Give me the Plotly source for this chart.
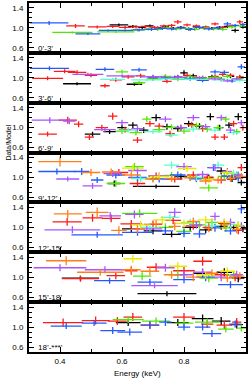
import plotly.graph_objects as go
from plotly.subplots import make_subplots

COLORS = {
    "black": "#000000", "red": "#ff1a1a", "green": "#4fe800", "blue": "#2458ff",
    "cyan": "#55ffcc", "purple": "#a855ff", "yellow": "#e8e800", "orange": "#ff7f1a",
}
PANEL_LABELS = ["0’-3’", "3’-6’", "6’-9’", "9’-12’", "12’-15’", "15’-18’", "18’-***’"]
X_TICKS = [0.4, 0.6, 0.8]
Y_TICKS = [0.6, 1.0, 1.4]

# ---- panel 1 (0'-3') ----
p1_black = dict(e=[0.59, 0.635, 0.665, 0.69, 0.715, 0.74, 0.765, 0.79, 0.815, 0.84, 0.865, 0.89, 0.915, 0.94, 0.965, 0.99],
                w=[0.03, 0.015, 0.013, 0.012, 0.012, 0.012, 0.012, 0.012, 0.012, 0.012, 0.012, 0.012, 0.012, 0.012, 0.012, 0.01],
                r=[1.06, 1.03, 1.01, 1.04, 1.00, 1.02, 0.99, 1.01, 0.98, 1.02, 1.00, 0.99, 1.01, 1.03, 0.95, 1.02],
                s=[0.03, 0.03, 0.03, 0.03, 0.03, 0.03, 0.03, 0.03, 0.03, 0.03, 0.03, 0.03, 0.03, 0.03, 0.04, 0.03])
p1_red = dict(e=[0.45, 0.52, 0.57, 0.61, 0.645, 0.675, 0.705, 0.735, 0.76, 0.78, 0.81, 0.84, 0.87, 0.90, 0.925, 0.955, 0.98],
              w=[0.03, 0.03, 0.02, 0.02, 0.015, 0.015, 0.013, 0.013, 0.012, 0.012, 0.012, 0.012, 0.012, 0.012, 0.012, 0.012, 0.01],
              r=[1.04, 1.02, 1.03, 1.01, 1.02, 1.03, 1.01, 1.04, 1.05, 1.12, 1.06, 1.04, 1.02, 1.08, 1.01, 1.04, 1.12],
              s=[0.04, 0.03, 0.03, 0.03, 0.03, 0.03, 0.03, 0.03, 0.03, 0.04, 0.03, 0.03, 0.03, 0.03, 0.03, 0.03, 0.04])
p1_green = dict(e=[0.44, 0.58, 0.65, 0.685, 0.715, 0.745, 0.775, 0.805, 0.835, 0.865, 0.895, 0.925, 0.955, 0.985],
                w=[0.065, 0.06, 0.02, 0.015, 0.015, 0.015, 0.015, 0.015, 0.015, 0.015, 0.015, 0.015, 0.015, 0.013],
                r=[0.91, 0.92, 0.96, 0.98, 0.97, 1.00, 0.98, 0.99, 0.97, 1.00, 0.98, 0.97, 1.02, 1.04],
                s=[0.02, 0.02, 0.03, 0.03, 0.03, 0.03, 0.03, 0.03, 0.03, 0.03, 0.03, 0.03, 0.03, 0.03])
p1_blue = dict(e=[0.365, 0.49, 0.555, 0.61, 0.655, 0.695, 0.73, 0.76, 0.79, 0.82, 0.85, 0.88, 0.91, 0.94, 0.965, 0.99],
               w=[0.062, 0.04, 0.03, 0.025, 0.02, 0.02, 0.015, 0.015, 0.015, 0.015, 0.015, 0.015, 0.015, 0.012, 0.012, 0.01],
               r=[1.10, 0.88, 0.95, 0.95, 0.96, 0.97, 0.99, 0.98, 1.00, 0.97, 1.01, 0.98, 1.00, 1.08, 1.05, 1.07],
               s=[0.04, 0.02, 0.02, 0.02, 0.03, 0.03, 0.03, 0.03, 0.03, 0.03, 0.03, 0.03, 0.03, 0.04, 0.03, 0.03])

# ---- panel 2 (3'-6') ----
p2_black = dict(e=[0.455, 0.64, 0.70, 0.74, 0.77, 0.80, 0.83, 0.86, 0.89, 0.92, 0.95, 0.98],
                w=[0.045, 0.025, 0.015, 0.015, 0.012, 0.012, 0.012, 0.012, 0.012, 0.012, 0.012, 0.012],
                r=[0.88, 0.87, 0.99, 1.02, 1.00, 1.10, 1.04, 1.00, 1.02, 0.97, 1.03, 1.00],
                s=[0.03, 0.03, 0.04, 0.04, 0.04, 0.05, 0.04, 0.04, 0.04, 0.04, 0.04, 0.04])
p2_red = dict(e=[0.36, 0.415, 0.455, 0.50, 0.545, 0.58, 0.62, 0.66, 0.70, 0.745, 0.78, 0.81, 0.84, 0.87, 0.90, 0.925, 0.95, 0.98],
              w=[0.05, 0.035, 0.03, 0.02, 0.015, 0.02, 0.02, 0.015, 0.015, 0.015, 0.013, 0.013, 0.013, 0.013, 0.012, 0.012, 0.012, 0.012],
              r=[0.99, 1.13, 1.11, 1.05, 0.84, 0.96, 1.02, 1.04, 1.00, 0.93, 1.02, 1.05, 1.01, 0.98, 1.03, 1.07, 1.05, 1.02],
              s=[0.04, 0.04, 0.04, 0.04, 0.04, 0.04, 0.04, 0.04, 0.04, 0.04, 0.04, 0.04, 0.04, 0.04, 0.04, 0.04, 0.04, 0.04])
p2_green = dict(e=[0.60, 0.655, 0.70, 0.74, 0.78, 0.82, 0.86, 0.90, 0.94, 0.975],
                w=[0.02, 0.02, 0.02, 0.02, 0.02, 0.02, 0.02, 0.02, 0.015, 0.015],
                r=[1.12, 0.90, 0.98, 1.03, 0.97, 1.02, 0.99, 1.01, 1.03, 0.98],
                s=[0.04, 0.04, 0.04, 0.04, 0.04, 0.04, 0.04, 0.04, 0.04, 0.04])
p2_blue = dict(e=[0.366, 0.545, 0.655, 0.70, 0.74, 0.78, 0.82, 0.86, 0.90, 0.93, 0.955, 0.985],
               w=[0.063, 0.03, 0.025, 0.02, 0.02, 0.02, 0.02, 0.02, 0.015, 0.015, 0.012, 0.012],
               r=[1.19, 1.17, 1.16, 1.02, 0.99, 1.01, 0.98, 0.95, 1.12, 1.11, 0.94, 1.22],
               s=[0.04, 0.04, 0.04, 0.04, 0.04, 0.04, 0.04, 0.04, 0.04, 0.04, 0.04, 0.05])
p2_cyan = dict(e=[0.57, 0.68, 0.76, 0.84, 0.92, 0.98],
               w=[0.04, 0.05, 0.04, 0.04, 0.03, 0.02],
               r=[0.97, 0.96, 0.98, 0.97, 0.96, 0.95],
               s=[0.03, 0.03, 0.03, 0.03, 0.03, 0.03])
p2_purple = dict(e=[0.49, 0.60, 0.70, 0.78, 0.85, 0.90, 0.94, 0.97],
                 w=[0.05, 0.05, 0.04, 0.03, 0.02, 0.02, 0.015, 0.015],
                 r=[1.07, 1.04, 1.02, 1.01, 1.00, 0.98, 0.94, 0.98],
                 s=[0.03, 0.03, 0.03, 0.03, 0.03, 0.03, 0.03, 0.03])

# ---- panel 3 (6'-9') ----
p3_black = dict(e=[0.505, 0.56, 0.60, 0.635, 0.67, 0.71, 0.745, 0.78, 0.815, 0.85, 0.885, 0.915, 0.945, 0.975],
                w=[0.025, 0.02, 0.015, 0.015, 0.015, 0.015, 0.015, 0.015, 0.015, 0.015, 0.012, 0.012, 0.012, 0.012],
                r=[0.87, 0.92, 1.00, 1.05, 0.95, 1.20, 1.02, 0.98, 1.08, 1.03, 1.22, 1.00, 1.05, 1.22],
                s=[0.05, 0.05, 0.06, 0.06, 0.06, 0.07, 0.06, 0.06, 0.06, 0.06, 0.07, 0.06, 0.06, 0.07])
p3_red = dict(e=[0.36, 0.425, 0.46, 0.495, 0.535, 0.57, 0.61, 0.65, 0.69, 0.72, 0.755, 0.79, 0.825, 0.86, 0.90, 0.93, 0.96, 0.99],
              w=[0.03, 0.03, 0.015, 0.015, 0.02, 0.015, 0.02, 0.015, 0.015, 0.015, 0.015, 0.015, 0.015, 0.015, 0.012, 0.012, 0.012, 0.01],
              r=[0.87, 1.15, 1.07, 0.81, 1.00, 1.23, 0.96, 0.75, 1.08, 1.03, 0.88, 1.00, 1.06, 0.98, 0.81, 0.81, 1.08, 1.00],
              s=[0.05, 0.07, 0.06, 0.06, 0.06, 0.07, 0.06, 0.06, 0.06, 0.06, 0.06, 0.06, 0.06, 0.06, 0.06, 0.06, 0.06, 0.06])
p3_green = dict(e=[0.60, 0.645, 0.68, 0.72, 0.76, 0.80, 0.84, 0.875, 0.91, 0.935, 0.97],
                w=[0.02, 0.02, 0.015, 0.02, 0.02, 0.02, 0.02, 0.015, 0.015, 0.012, 0.012],
                r=[0.93, 0.90, 1.17, 0.96, 1.01, 0.93, 1.04, 0.97, 1.00, 1.17, 0.92],
                s=[0.06, 0.06, 0.06, 0.06, 0.06, 0.06, 0.06, 0.06, 0.06, 0.06, 0.06])
p3_cyan = dict(e=[0.62, 0.70, 0.76, 0.83, 0.90, 0.96],
               w=[0.03, 0.03, 0.02, 0.025, 0.02, 0.02],
               r=[0.95, 0.92, 0.85, 0.97, 0.95, 0.90],
               s=[0.05, 0.05, 0.05, 0.05, 0.05, 0.05])
p3_purple = dict(e=[0.367, 0.43, 0.545, 0.60, 0.65, 0.74, 0.79, 0.83, 0.87, 0.92, 0.95, 0.985],
                 w=[0.058, 0.02, 0.035, 0.02, 0.02, 0.02, 0.02, 0.02, 0.015, 0.015, 0.015, 0.012],
                 r=[1.15, 1.13, 0.96, 1.10, 0.98, 1.17, 1.00, 1.20, 1.02, 1.20, 0.95, 1.10],
                 s=[0.06, 0.06, 0.05, 0.06, 0.06, 0.06, 0.06, 0.06, 0.06, 0.06, 0.06, 0.06])

# ---- panel 4 (9'-12') ----
p4_black = dict(e=[0.575, 0.71, 0.79, 0.84, 0.88, 0.92, 0.955, 0.985],
                w=[0.02, 0.075, 0.02, 0.02, 0.015, 0.015, 0.015, 0.012],
                r=[0.88, 0.82, 1.02, 0.98, 1.00, 1.13, 0.97, 0.90],
                s=[0.06, 0.04, 0.06, 0.06, 0.06, 0.07, 0.06, 0.06])
p4_red = dict(e=[0.59, 0.65, 0.71, 0.77, 0.83, 0.875, 0.92, 0.955, 0.985],
              w=[0.03, 0.025, 0.025, 0.025, 0.02, 0.02, 0.015, 0.015, 0.012],
              r=[1.10, 0.88, 1.03, 0.97, 1.05, 1.00, 0.95, 1.02, 1.20],
              s=[0.07, 0.07, 0.07, 0.07, 0.07, 0.07, 0.07, 0.07, 0.07])
p4_green = dict(e=[0.58, 0.64, 0.70, 0.76, 0.82, 0.88, 0.93, 0.97],
                w=[0.03, 0.03, 0.025, 0.025, 0.02, 0.03, 0.02, 0.015],
                r=[0.88, 1.22, 0.98, 1.04, 1.00, 0.79, 1.02, 1.05],
                s=[0.07, 0.07, 0.07, 0.07, 0.07, 0.07, 0.07, 0.07])
p4_blue = dict(e=[0.39, 0.47, 0.52, 0.58, 0.65, 0.72, 0.78, 0.84, 0.895, 0.94, 0.975],
               w=[0.06, 0.025, 0.02, 0.03, 0.03, 0.03, 0.025, 0.025, 0.02, 0.02, 0.015],
               r=[1.12, 1.12, 0.95, 1.05, 1.00, 0.97, 1.05, 0.98, 1.20, 1.03, 0.99],
               s=[0.06, 0.07, 0.06, 0.07, 0.07, 0.07, 0.07, 0.07, 0.07, 0.07, 0.07])
p4_cyan = dict(e=[0.66, 0.76, 0.84, 0.91, 0.96],
               w=[0.03, 0.025, 0.025, 0.02, 0.02],
               r=[0.98, 1.25, 1.00, 1.25, 1.08],
               s=[0.07, 0.07, 0.07, 0.07, 0.07])
p4_purple = dict(e=[0.425, 0.505, 0.57, 0.65, 0.72, 0.80, 0.86, 0.90, 0.94, 0.975],
                 w=[0.037, 0.032, 0.03, 0.03, 0.03, 0.025, 0.02, 0.02, 0.015, 0.015],
                 r=[0.97, 0.83, 1.08, 1.14, 1.03, 1.22, 1.06, 1.20, 1.12, 1.05],
                 s=[0.05, 0.06, 0.07, 0.07, 0.07, 0.07, 0.07, 0.07, 0.07, 0.07])
p4_yellow = dict(e=[0.635, 0.72, 0.81, 0.88, 0.94],
                 w=[0.035, 0.03, 0.03, 0.025, 0.02],
                 r=[1.19, 1.02, 1.18, 0.96, 1.10],
                 s=[0.07, 0.07, 0.07, 0.07, 0.07])
p4_orange = dict(e=[0.40, 0.50, 0.565, 0.63, 0.70, 0.76, 0.82, 0.87, 0.91, 0.95, 0.985],
                 w=[0.07, 0.03, 0.03, 0.03, 0.025, 0.02, 0.02, 0.02, 0.015, 0.015, 0.015],
                 r=[1.32, 1.10, 1.11, 1.05, 0.97, 0.98, 1.00, 0.93, 0.95, 0.98, 1.02],
                 s=[0.10, 0.07, 0.07, 0.07, 0.07, 0.07, 0.07, 0.07, 0.07, 0.07, 0.07])

# ---- panel 5 (12'-15') ----
p5_black = dict(e=[0.63, 0.70, 0.76, 0.82, 0.87, 0.92, 0.96, 0.99],
                w=[0.03, 0.03, 0.03, 0.025, 0.02, 0.02, 0.015, 0.01],
                r=[0.97, 0.93, 0.86, 1.00, 0.95, 1.02, 1.00, 0.97],
                s=[0.08, 0.07, 0.06, 0.07, 0.07, 0.07, 0.07, 0.07])
p5_red = dict(e=[0.423, 0.505, 0.565, 0.63, 0.70, 0.765, 0.83, 0.88, 0.93, 0.975],
              w=[0.047, 0.032, 0.03, 0.035, 0.03, 0.025, 0.025, 0.02, 0.02, 0.015],
              r=[1.11, 1.19, 1.18, 1.07, 1.06, 1.14, 1.03, 1.00, 1.08, 0.94],
              s=[0.08, 0.08, 0.08, 0.08, 0.08, 0.08, 0.08, 0.08, 0.08, 0.08])
p5_green = dict(e=[0.657, 0.74, 0.80, 0.85, 0.89, 0.935, 0.975],
                w=[0.057, 0.025, 0.025, 0.02, 0.02, 0.02, 0.015],
                r=[1.28, 1.00, 0.92, 1.05, 1.10, 0.99, 1.04],
                s=[0.08, 0.08, 0.08, 0.08, 0.08, 0.08, 0.08])
p5_blue = dict(e=[0.52, 0.65, 0.74, 0.80, 0.85, 0.90, 0.95, 0.985],
               w=[0.083, 0.05, 0.025, 0.02, 0.02, 0.02, 0.02, 0.012],
               r=[0.85, 0.90, 0.93, 0.88, 0.87, 0.99, 0.93, 1.37],
               s=[0.06, 0.07, 0.08, 0.08, 0.08, 0.08, 0.08, 0.09])
p5_cyan = dict(e=[0.69, 0.755, 0.82, 0.89, 0.95],
               w=[0.03, 0.03, 0.03, 0.025, 0.02],
               r=[1.00, 1.20, 1.10, 1.03, 1.06],
               s=[0.08, 0.08, 0.08, 0.08, 0.08])
p5_purple = dict(e=[0.44, 0.562, 0.64, 0.68, 0.77, 0.84, 0.90, 0.95, 0.985],
                 w=[0.09, 0.035, 0.03, 0.05, 0.02, 0.02, 0.015, 0.015, 0.012],
                 r=[0.95, 1.23, 1.26, 0.97, 1.30, 1.05, 1.22, 1.10, 1.02],
                 s=[0.07, 0.08, 0.08, 0.07, 0.09, 0.08, 0.08, 0.08, 0.08])
p5_yellow = dict(e=[0.66, 0.73, 0.80, 0.87, 0.93, 0.975],
                 w=[0.03, 0.03, 0.03, 0.025, 0.02, 0.015],
                 r=[1.05, 1.15, 1.08, 1.15, 1.10, 1.03],
                 s=[0.08, 0.08, 0.08, 0.08, 0.08, 0.08])
p5_orange = dict(e=[0.425, 0.52, 0.59, 0.65, 0.71, 0.77, 0.83, 0.88, 0.93, 0.97],
                 w=[0.045, 0.037, 0.025, 0.025, 0.02, 0.02, 0.02, 0.015, 0.015, 0.015],
                 r=[1.27, 1.30, 0.94, 0.96, 1.07, 1.02, 1.12, 0.98, 1.05, 0.96],
                 s=[0.08, 0.10, 0.08, 0.08, 0.08, 0.08, 0.08, 0.08, 0.08, 0.08])

# ---- panel 6 (15'-18') ----
p6_black = dict(e=[0.466, 0.745, 0.86, 0.93, 0.975],
                w=[0.06, 0.095, 0.03, 0.025, 0.02],
                r=[0.98, 0.67, 1.08, 1.10, 0.98],
                s=[0.05, 0.05, 0.08, 0.08, 0.08])
p6_red = dict(e=[0.466, 0.58, 0.63, 0.71, 0.80, 0.86, 0.92, 0.965],
              w=[0.06, 0.03, 0.02, 0.03, 0.035, 0.03, 0.025, 0.02],
              r=[0.97, 1.03, 1.13, 1.20, 1.13, 1.32, 1.05, 1.00],
              s=[0.06, 0.07, 0.08, 0.08, 0.08, 0.09, 0.08, 0.08])
p6_green = dict(e=[0.665, 0.78, 0.88, 0.96],
                w=[0.03, 0.03, 0.03, 0.025],
                r=[1.02, 1.05, 0.98, 1.04],
                s=[0.08, 0.08, 0.08, 0.08])
p6_blue = dict(e=[0.56, 0.69, 0.80, 0.87, 0.95],
               w=[0.05, 0.04, 0.035, 0.03, 0.04],
               r=[0.93, 0.90, 0.95, 1.00, 0.85],
               s=[0.06, 0.07, 0.07, 0.08, 0.07])
p6_purple = dict(e=[0.40, 0.545, 0.705, 0.74, 0.80, 0.86, 0.92, 0.97],
                 w=[0.085, 0.065, 0.075, 0.03, 0.03, 0.03, 0.02, 0.02],
                 r=[1.19, 1.15, 0.83, 1.19, 1.05, 1.10, 1.00, 1.05],
                 s=[0.07, 0.07, 0.05, 0.08, 0.08, 0.08, 0.08, 0.08])
p6_yellow = dict(e=[0.635, 0.78, 0.87, 0.94],
                 w=[0.03, 0.03, 0.03, 0.025],
                 r=[1.37, 1.22, 1.05, 1.12],
                 s=[0.08, 0.08, 0.08, 0.08])
p6_orange = dict(e=[0.42, 0.53, 0.63, 0.69, 0.76, 0.83, 0.89, 0.94, 0.98],
                 w=[0.065, 0.075, 0.03, 0.03, 0.025, 0.025, 0.02, 0.02, 0.015],
                 r=[1.33, 1.10, 1.15, 1.12, 1.05, 1.00, 1.08, 0.98, 1.02],
                 s=[0.09, 0.07, 0.08, 0.08, 0.08, 0.08, 0.08, 0.08, 0.08])

# ---- panel 7 (18'-***') ----
p7_black = dict(e=[0.62, 0.78, 0.86, 0.92, 0.97],
                w=[0.04, 0.035, 0.035, 0.03, 0.02],
                r=[1.09, 1.09, 1.17, 1.12, 1.05],
                s=[0.07, 0.07, 0.08, 0.08, 0.08])
p7_red = dict(e=[0.41, 0.515, 0.585, 0.635, 0.69, 0.80, 0.875, 0.93, 0.97],
              w=[0.065, 0.045, 0.03, 0.03, 0.03, 0.035, 0.02, 0.025, 0.015],
              r=[1.09, 1.13, 1.12, 1.20, 1.04, 1.20, 1.06, 1.04, 1.10],
              s=[0.08, 0.08, 0.08, 0.08, 0.08, 0.08, 0.08, 0.08, 0.08])
p7_green = dict(e=[0.62, 0.71, 0.80, 0.875, 0.935, 0.985],
                w=[0.05, 0.045, 0.03, 0.04, 0.025, 0.015],
                r=[1.15, 1.12, 1.08, 1.10, 0.96, 0.98],
                s=[0.07, 0.07, 0.07, 0.07, 0.07, 0.07])
p7_blue = dict(e=[0.42, 0.51, 0.57, 0.625, 0.69, 0.74, 0.80, 0.86, 0.89, 0.965],
               w=[0.05, 0.04, 0.04, 0.04, 0.03, 0.02, 0.02, 0.025, 0.03, 0.02],
               r=[1.02, 1.08, 0.93, 0.90, 1.04, 1.10, 1.00, 1.00, 0.87, 1.06],
               s=[0.06, 0.06, 0.07, 0.07, 0.07, 0.08, 0.07, 0.07, 0.07, 0.07])

PANELS = [
    [("black", p1_black), ("red", p1_red), ("green", p1_green), ("blue", p1_blue)],
    [("black", p2_black), ("red", p2_red), ("green", p2_green), ("blue", p2_blue),
     ("cyan", p2_cyan), ("purple", p2_purple)],
    [("black", p3_black), ("red", p3_red), ("green", p3_green), ("cyan", p3_cyan),
     ("purple", p3_purple)],
    [("black", p4_black), ("red", p4_red), ("green", p4_green), ("blue", p4_blue),
     ("cyan", p4_cyan), ("purple", p4_purple), ("yellow", p4_yellow), ("orange", p4_orange)],
    [("black", p5_black), ("red", p5_red), ("green", p5_green), ("blue", p5_blue),
     ("cyan", p5_cyan), ("purple", p5_purple), ("yellow", p5_yellow), ("orange", p5_orange)],
    [("black", p6_black), ("red", p6_red), ("green", p6_green), ("blue", p6_blue),
     ("purple", p6_purple), ("yellow", p6_yellow), ("orange", p6_orange)],
    [("black", p7_black), ("red", p7_red), ("green", p7_green), ("blue", p7_blue)],
]

FONT = "Liberation Sans, Arial, sans-serif"
NROWS = len(PANELS)

fig = make_subplots(rows=NROWS, cols=1, shared_xaxes=True, vertical_spacing=0)

for i, series in enumerate(PANELS, start=1):
    fig.add_hline(y=1.0, line=dict(color="black", width=1.5, dash="dot"),
                  layer="below", row=i, col=1)
    for cname, d in series:
        col = COLORS[cname]
        fig.add_trace(go.Scatter(
            x=d["e"], y=d["r"], mode="markers",
            marker=dict(size=1, color="rgba(0,0,0,0)"),
            error_x=dict(type="data", array=d["w"], color=col, thickness=1.3, width=0),
            error_y=dict(type="data", array=d["s"], color=col, thickness=1.3, width=0),
            showlegend=False, hoverinfo="skip"), row=i, col=1)
    xref = "x" if i == 1 else f"x{i}"
    yref = "y" if i == 1 else f"y{i}"
    fig.add_annotation(x=0.322, y=0.585, xref=xref, yref=yref, text=PANEL_LABELS[i - 1],
                       showarrow=False, xanchor="left", yanchor="middle",
                       font=dict(family=FONT, size=8, color="black"))

fig.update_xaxes(range=[0.3, 1.0], showline=True, linewidth=2, linecolor="black",
                 mirror="allticks", ticks="inside", ticklen=5, tickwidth=1.2, tickcolor="black",
                 tickmode="array", tickvals=X_TICKS, ticktext=[f"{v:.1f}" for v in X_TICKS],
                 minor=dict(ticks="inside", tickmode="linear", tick0=0, dtick=0.1,
                            ticklen=3, tickwidth=1, tickcolor="black"),
                 showgrid=False, zeroline=False,
                 tickfont=dict(family=FONT, size=8, color="black"))
fig.update_yaxes(range=[0.5, 1.5], showline=True, linewidth=2, linecolor="black",
                 mirror="allticks", ticks="inside", ticklen=5, tickwidth=1.2, tickcolor="black",
                 tickmode="array", tickvals=Y_TICKS, ticktext=[f"{v:.1f}" for v in Y_TICKS],
                 minor=dict(ticks="inside", tickmode="linear", tick0=0, dtick=0.1,
                            ticklen=2.5, tickwidth=1, tickcolor="black"),
                 showgrid=False, zeroline=False, ticklabelstandoff=2,
                 tickfont=dict(family=FONT, size=8, color="black"))

fig.add_annotation(text="Energy (keV)", xref="paper", yref="paper", x=0.5, y=0,
                   yanchor="top", yshift=-15, showarrow=False,
                   font=dict(family=FONT, size=8, color="black"))
fig.add_annotation(text="Data/Model", xref="paper", yref="paper", x=0, y=0.6,
                   xanchor="center", xshift=-20, textangle=-90, showarrow=False,
                   font=dict(family=FONT, size=7, color="black"))

fig.update_layout(width=249, height=379, margin=dict(l=29, r=1, t=1, b=27),
                  plot_bgcolor="white", paper_bgcolor="white")

fig.write_html("out.html", config={"displayModeBar": False},
               post_script="document.body.style.margin='0';document.body.style.padding='0';")
